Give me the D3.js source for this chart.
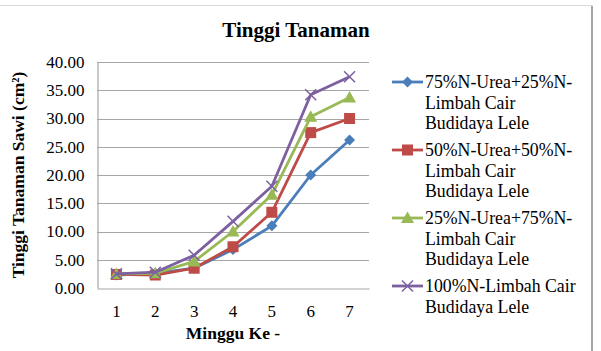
<!DOCTYPE html>
<html><head><meta charset="utf-8">
<script src="https://cdn.jsdelivr.net/npm/d3@7"></script>
<style>body{margin:0;background:#fff}svg{display:block}svg text{font-family:"Liberation Serif","Times New Roman",Times,serif !important}</style>
</head><body><svg id="c" width="601" height="351"></svg>
<script>
const categories = ["1","2","3","4","5","6","7"];
const yTicks = [0,5,10,15,20,25,30,35,40];
const seriesNames = [
  "75%N-Urea+25%N-Limbah Cair Budidaya Lele",
  "50%N-Urea+50%N-Limbah Cair Budidaya Lele",
  "25%N-Urea+75%N-Limbah Cair Budidaya Lele",
  "100%N-Limbah Cair Budidaya Lele"
];
const legendLines = [
  ["75%N-Urea+25%N-","Limbah Cair","Budidaya Lele"],
  ["50%N-Urea+50%N-","Limbah Cair","Budidaya Lele"],
  ["25%N-Urea+75%N-","Limbah Cair","Budidaya Lele"],
  ["100%N-Limbah Cair","Budidaya Lele"]
];
const s1 = [2.3, 2.6, 3.5, 6.8, 11.0, 20.0, 26.2];
const s2 = [2.4, 2.3, 3.5, 7.3, 13.4, 27.5, 30.0];
const s3 = [2.5, 2.6, 4.7, 10.0, 16.5, 30.3, 33.7];
const s4 = [2.5, 2.8, 5.8, 11.8, 18.0, 34.2, 37.4];
const series = [s1, s2, s3, s4];
const colors = ["#4a7ebb","#be4b48","#98b954","#7d60a0"];
const markers = ["diamond","square","triangle","x"];

const svg = d3.select("#c");
const FF = '"Liberation Serif","Times New Roman",Times,serif';
// outer frame
svg.append("rect").attr("x",-2).attr("y",5.5).attr("width",594).attr("height",350)
  .attr("fill","none").attr("stroke","#d9d9d9").attr("stroke-width",1);
svg.append("line").attr("x1",592).attr("x2",592).attr("y1",6).attr("y2",351)
  .attr("stroke","#a6a6a6").attr("stroke-width",2);

const L=97, R=369, T=62, B=288;
const x = d3.scaleBand().domain(categories).range([L,R]);
const y = d3.scaleLinear().domain([0,40]).range([B,T]);

// gridlines
svg.append("g").selectAll("line").data(yTicks.filter(d=>d>0)).join("line")
  .attr("x1",L).attr("x2",R).attr("y1",d=>Math.round(y(d))+0.5).attr("y2",d=>Math.round(y(d))+0.5)
  .attr("stroke","#a6a6a6").attr("stroke-width",1.2);

// y axis
const ya = svg.append("g").attr("transform",`translate(${L+0.5},0)`)
  .call(d3.axisLeft(y).tickValues(yTicks).tickFormat(d3.format(".2f")).tickSize(0).tickPadding(13));
ya.attr("font-family",FF);
ya.select(".domain").attr("stroke","#a6a6a6").attr("stroke-width",1.2);
ya.selectAll("text").attr("font-size","17px").attr("fill","#000").style("font-family",FF);

// x axis
const xa = svg.append("g").attr("transform",`translate(0,${B+0.5})`)
  .call(d3.axisBottom(x).tickSize(0).tickPadding(16));
xa.attr("font-family",FF);
xa.select(".domain").attr("stroke","#a6a6a6").attr("stroke-width",1.2);
xa.selectAll("text").attr("font-size","17px").attr("fill","#000").style("font-family",FF);

// title
svg.append("text").attr("x",296).attr("y",37).attr("text-anchor","middle")
  .attr("font-size","21px").attr("font-weight","bold").text("Tinggi Tanaman");
svg.append("text").attr("x",233).attr("y",339).attr("text-anchor","middle")
  .attr("font-size","17.5px").attr("font-weight","bold").text("Minggu Ke -");
svg.append("text").attr("transform",`translate(23.5,${(T+B)/2}) rotate(-90)`).attr("text-anchor","middle")
  .attr("font-size","17.5px").attr("font-weight","bold").text("Tinggi Tanaman Sawi (cm²)");

function drawMarker(g, type, cx, cy, color){
  if(type==="diamond"){
    g.append("path").attr("d",`M${cx},${cy-5.5}L${cx+5.5},${cy}L${cx},${cy+5.5}L${cx-5.5},${cy}Z`).attr("fill",color);
  } else if(type==="square"){
    g.append("rect").attr("x",cx-5.5).attr("y",cy-5.5).attr("width",11).attr("height",11).attr("fill",color);
  } else if(type==="triangle"){
    g.append("path").attr("d",`M${cx},${cy-6.5}L${cx+6.5},${cy+5}L${cx-6.5},${cy+5}Z`).attr("fill",color);
  } else {
    g.append("path").attr("d",`M${cx-5.5},${cy-5.5}L${cx+5.5},${cy+5.5}M${cx+5.5},${cy-5.5}L${cx-5.5},${cy+5.5}`)
      .attr("stroke",color).attr("stroke-width",1.5).attr("fill","none");
  }
}

const line = d3.line().x((d,i)=>x(categories[i])+x.bandwidth()/2).y(d=>y(d));
series.forEach((s,k)=>{
  const g = svg.append("g");
  g.append("path").datum(s).attr("d",line).attr("fill","none").attr("stroke",colors[k])
    .attr("stroke-width",2.8).attr("stroke-linejoin","round");
  s.forEach((v,i)=>drawMarker(g, markers[k], x(categories[i])+x.bandwidth()/2, y(v), colors[k]));
});

// legend
const lineH = 20.5, entryGap = 6.5;
let ly = 82;
legendLines.forEach((lines,k)=>{
  const g = svg.append("g");
  g.append("line").attr("x1",392).attr("x2",423).attr("y1",ly).attr("y2",ly)
    .attr("stroke",colors[k]).attr("stroke-width",2.8);
  drawMarker(g, markers[k], 407.5, ly, colors[k]);
  const t = g.append("text").attr("x",425).attr("y",ly+6).attr("font-size","17.8px").attr("fill","#000");
  lines.forEach((ln,j)=>t.append("tspan").attr("x",425).attr("dy", j===0?0:lineH).text(ln));
  ly += lines.length*lineH + entryGap;
});
</script></body></html>
